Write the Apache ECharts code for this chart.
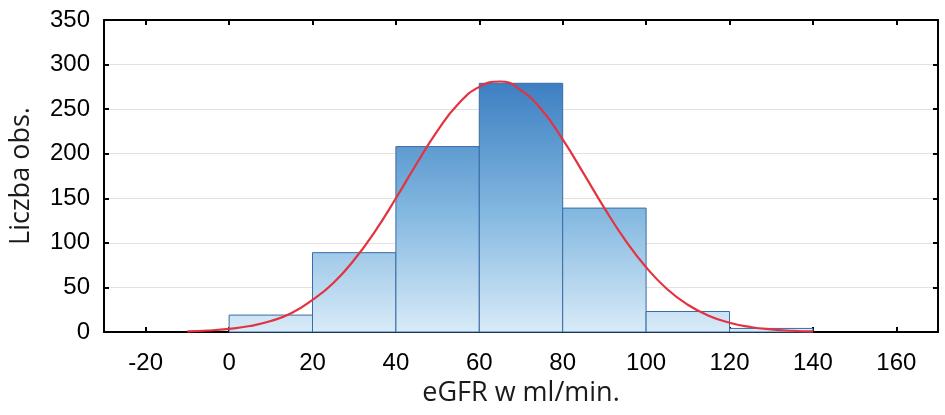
<!DOCTYPE html>
<html>
<head>
<meta charset="utf-8">
<script src="https://cdn.jsdelivr.net/npm/echarts@6/dist/echarts.min.js"></script>
<style>html,body{margin:0;padding:0;background:#fff}#c{width:945px;height:415px}</style>
</head>
<body>
<div id="c"></div>
<script>
var binStarts = [0, 20, 40, 60, 80, 100, 120];
var binWidth = 20;
var counts = [19, 89, 208, 279, 139, 23, 4];
var xTicks = [-20, 0, 20, 40, 60, 80, 100, 120, 140, 160];
var yTicks = [0, 50, 100, 150, 200, 250, 300, 350];
var curveX = [-10,-5,0,5,10,15,20,25,30,35,40,45,50,55,60,65,70,75,80,85,90,95,100,105,110,115,120,125,130,135,140];
var curveY = [0.8,1.7,3.5,6.7,12.3,21.3,36,55,81,113,150,189,226,256,275,281,271,249,216,178,139,103,72.6,48.3,30.6,18.3,10.4,5.6,2.9,1.4,0.6];
var xTitle = 'eGFR w ml/min.';
var yTitle = 'Liczba obs.';

var barData = binStarts.map(function (s, i) { return [s, s + binWidth, counts[i]]; });
var curveData = curveX.map(function (x, i) { return [x, curveY[i]]; });

var chart = echarts.init(document.getElementById('c'), null, {renderer: 'canvas'});
var axisLine = {show: true, onZero: false, lineStyle: {color: '#000', width: 2}};
var tickStyle = {show: true, inside: true, length: 5, lineStyle: {color: '#000', width: 2}};
chart.setOption({
  animation: false,
  grid: {left: 104, right: 7, top: 20, bottom: 83, containLabel: false},
  xAxis: [{
    type: 'value', min: -30, max: 170, position: 'bottom',
    axisLine: axisLine,
    axisTick: Object.assign({customValues: xTicks}, tickStyle),
    axisLabel: {customValues: xTicks, color: '#000', fontFamily: 'Liberation Sans', fontSize: 24, margin: 19},
    splitLine: {show: false},
    name: xTitle, nameLocation: 'middle', nameGap: 48,
    nameTextStyle: {color: '#1a1a1a', fontFamily: 'Open Sans', fontSize: 27}
  }, {
    type: 'value', min: -30, max: 170, position: 'top',
    axisLine: axisLine,
    axisTick: Object.assign({customValues: xTicks}, tickStyle),
    axisLabel: {show: false},
    splitLine: {show: false}
  }],
  yAxis: [{
    type: 'value', min: 0, max: 350, interval: 50, position: 'left',
    axisLine: axisLine,
    axisTick: tickStyle,
    axisLabel: {customValues: yTicks, color: '#000', fontFamily: 'Liberation Sans', fontSize: 24, margin: 14},
    splitLine: {show: true, lineStyle: {color: '#e2e2e2', width: 1}},
    name: yTitle, nameLocation: 'middle', nameGap: 69,
    nameTextStyle: {color: '#1a1a1a', fontFamily: 'Open Sans', fontSize: 27}
  }, {
    type: 'value', min: 0, max: 350, interval: 50, position: 'right',
    axisLine: axisLine,
    axisTick: tickStyle,
    axisLabel: {show: false},
    splitLine: {show: false}
  }],
  series: [{
    type: 'custom',
    xAxisIndex: 0, yAxisIndex: 0,
    data: barData,
    renderItem: function (params, api) {
      var p0 = api.coord([api.value(0), 0]);
      var p1 = api.coord([api.value(1), api.value(2)]);
      var yBase = api.coord([0, 0])[1];
      var yTop = api.coord([0, 280])[1];
      return {
        type: 'rect',
        shape: {x: p0[0], y: p1[1], width: p1[0] - p0[0], height: p0[1] - p1[1]},
        style: {
          fill: new echarts.graphic.LinearGradient(0, yTop, 0, yBase, [
            {offset: 0, color: '#3c7fc2'},
            {offset: 0.5, color: '#80b6df'},
            {offset: 1, color: '#d8ebf8'}
          ], true),
          stroke: '#3a6ca6',
          lineWidth: 1
        }
      };
    },
    z: 2
  }, {
    type: 'line',
    xAxisIndex: 0, yAxisIndex: 0,
    data: curveData,
    smooth: true,
    showSymbol: false,
    lineStyle: {color: '#e5323f', width: 2.2},
    z: 3
  }]
});
</script>
</body>
</html>
